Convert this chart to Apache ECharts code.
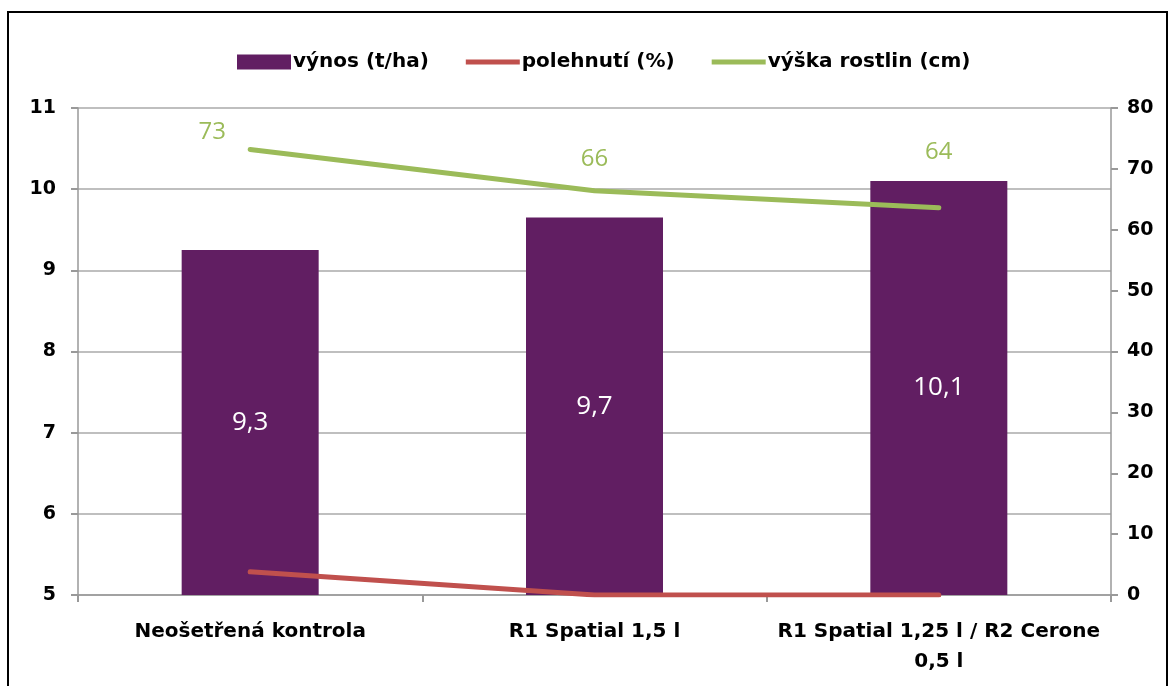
<!DOCTYPE html>
<html>
<head>
<meta charset="utf-8">
<script src="https://cdn.jsdelivr.net/npm/echarts@6/dist/echarts.min.js"></script>
<style>
    html, body { margin: 0; padding: 0; background: #fff; }
    #frame { position: absolute; left: 7px; top: 11px; width: 1157px; height: 700px; border: 2px solid #000; }
    #chart { position: absolute; left: 0; top: 0; width: 1170px; height: 686px; }
</style>
</head>
<body>
<div id="frame"></div>
<div id="chart"></div>
<script>
var categories = ['Neošetřená kontrola', 'R1 Spatial 1,5 l', 'R1 Spatial 1,25 l / R2 Cerone\n0,5 l'];
var vynos = [9.25, 9.65, 10.1];          // t/ha
var polehnuti = [3.8, 0, 0];             // %
var vyska = [73.2, 66.4, 63.6];          // cm
var vyskaLabels = ['73', '66', '64'];
var leftTicks = { min: 5, max: 11, interval: 1 };
var rightTicks = { min: 0, max: 80, interval: 10 };

var boldFont = '"DejaVu Sans", sans-serif';
var numFont = '"Open Sans", sans-serif';
// posun popisku výšky (jako v Excelu)
var vyskaLabelOffset = [[-38, 5], [0, -9], [0, -33]];

var vyskaData = [];
for (var i = 0; i < vyska.length; i++) {
    vyskaData.push({
        value: vyska[i],
        label: { offset: vyskaLabelOffset[i], formatter: vyskaLabels[i] }
    });
}

var lineIcon = 'path://M0,0L54,0L54,5L0,5Z';

var myChart = echarts.init(document.getElementById('chart'));
var option = {
    backgroundColor: 'transparent',
    animation: false,
    legend: {
        top: 47,
        left: 232,
        itemWidth: 54,
        itemHeight: 15,
        itemGap: 37,
        symbolKeepAspect: true,
        textStyle: { fontFamily: boldFont, fontWeight: 'bold', fontSize: 20, color: '#000', padding: [0, 0, 0, -3] },
        data: [
            { name: 'výnos (t/ha)', icon: 'rect' },
            { name: 'polehnutí (%)', icon: lineIcon },
            { name: 'výška rostlin (cm)', icon: lineIcon }
        ]
    },
    grid: { left: 78, right: 59, top: 108, bottom: 91 },
    xAxis: {
        type: 'category',
        data: categories,
        axisLine: { lineStyle: { color: '#999', width: 1.5 } },
        axisTick: { show: true, length: 7, lineStyle: { color: '#999', width: 2 } },
        axisLabel: { fontFamily: boldFont, fontWeight: 'bold', fontSize: 20, color: '#000', margin: 22, lineHeight: 30, interval: 0 }
    },
    yAxis: [{
        type: 'value',
        min: leftTicks.min,
        max: leftTicks.max,
        interval: leftTicks.interval,
        axisLine: { show: true, lineStyle: { color: '#999', width: 1.5 } },
        axisTick: { show: true, length: 7, lineStyle: { color: '#999', width: 2 } },
        splitLine: { lineStyle: { color: '#aaa', width: 1.5 } },
        axisLabel: { fontFamily: boldFont, fontWeight: 'bold', fontSize: 19, color: '#000', margin: 22 }
    }, {
        type: 'value',
        min: rightTicks.min,
        max: rightTicks.max,
        interval: rightTicks.interval,
        position: 'right',
        axisLine: { show: true, lineStyle: { color: '#999', width: 1.5 } },
        axisTick: { show: true, length: 7, lineStyle: { color: '#999', width: 2 } },
        splitLine: { show: false },
        axisLabel: { fontFamily: boldFont, fontWeight: 'bold', fontSize: 19, color: '#000', margin: 16 }
    }],
    series: [{
        name: 'výnos (t/ha)',
        type: 'bar',
        data: vynos,
        barWidth: 137,
        itemStyle: { color: '#611E62' },
        label: {
            show: true,
            position: 'inside',
            color: '#fff',
            fontFamily: numFont,
            fontSize: 26,
            formatter: function (p) { return p.value.toFixed(1).replace('.', ','); }
        }
    }, {
        name: 'polehnutí (%)',
        type: 'line',
        yAxisIndex: 1,
        data: polehnuti,
        symbol: 'circle',
        symbolSize: 1,
        lineStyle: { color: '#C0504D', width: 5, cap: 'round' },
        itemStyle: { color: '#C0504D' }
    }, {
        name: 'výška rostlin (cm)',
        type: 'line',
        yAxisIndex: 1,
        data: vyskaData,
        symbol: 'circle',
        symbolSize: 1,
        lineStyle: { color: '#9BBB59', width: 5, cap: 'round' },
        itemStyle: { color: '#9BBB59' },
        label: {
            show: true,
            position: 'top',
            distance: 10,
            color: '#9BBB59',
            fontFamily: numFont,
            fontSize: 24
        }
    }]
};
myChart.setOption(option);
</script>
</body>
</html>
